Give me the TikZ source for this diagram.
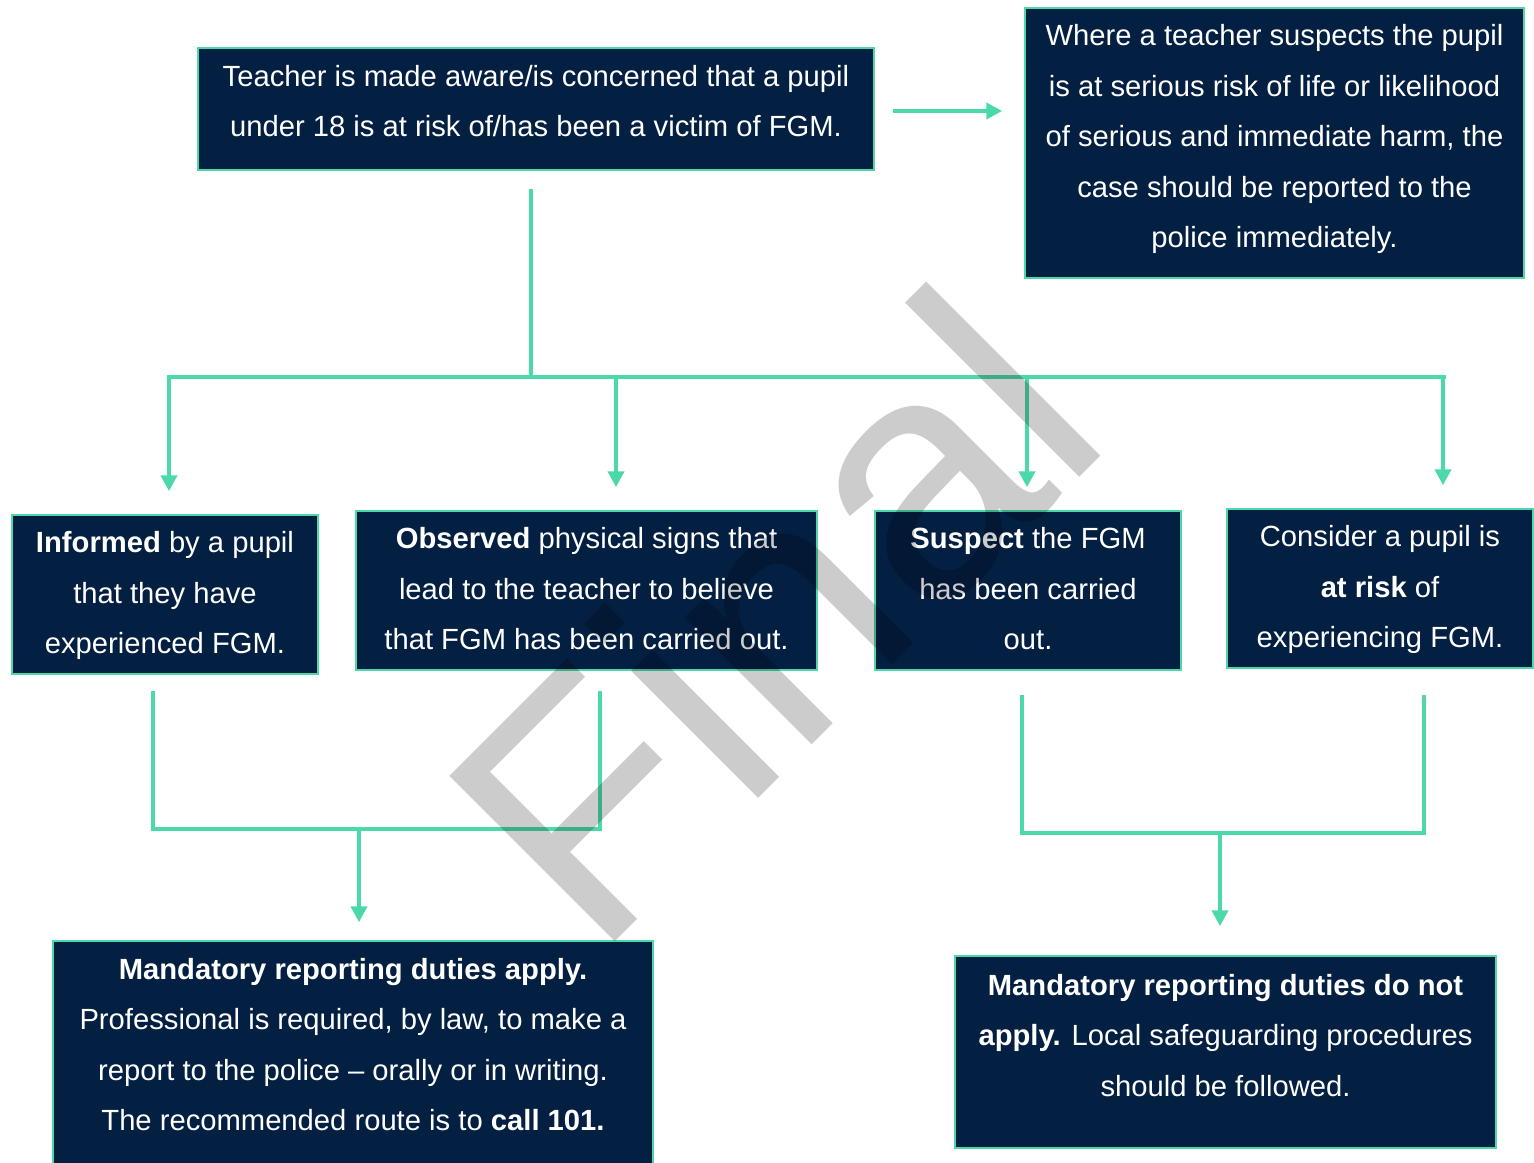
\documentclass[tikz,border=0pt]{standalone}
\usepackage{fontspec}
\setmainfont{Liberation Sans}
\usetikzlibrary{arrows.meta}
\definecolor{navyFill}{RGB}{3,31,66}
\definecolor{mintLine}{RGB}{76,217,170}
\newcommand{\padFirst}{\rule{0pt}{15.7pt}}
\begin{document}
\begin{tikzpicture}
[x=0.5pt,y=-0.5pt,
  padBottom/.style={execute at end node={\rule[-#1]{0pt}{0pt}}},%
  boxDecorate/.style={shape=rectangle,draw=mintLine,line width=0.75pt,fill=navyFill,%
    text=white,align=center,inner sep=3pt,font=\fontsize{14.6}{25.25}\selectfont,%
    padBottom=7pt},%
  midBox/.style={boxDecorate,minimum width=153pt,minimum height=79.5pt,inner ysep=0pt,%
    padBottom=0pt},%
  lineDecorate/.style={-,draw=mintLine,line width=2pt},%
  arrowDecorate/.style={lineDecorate,-{Triangle[width=8pt,length=8pt]}}]
\useasboundingbox (0,0) rectangle (1534,1162);
%% boxes
\node (aware) at (536,109) [boxDecorate,minimum width=338pt,minimum height=61pt,padBottom=8pt]
  {Teacher is made aware/is concerned that a pupil\\under 18 is at risk of/has been a victim of FGM.};
\node (police) at (1274.5,143) [boxDecorate,minimum width=249.5pt,minimum height=135pt,padBottom=5pt]
  {Where a teacher suspects the pupil\\is at serious risk of life or likelihood\\of serious and immediate harm, the\\case should be reported to the\\police immediately.};
\node (informed) at (165,594.5) [midBox]
  {\padFirst\textbf{Informed} by a pupil\\that they have\\experienced FGM.};
\node (observed) at (586.5,590.5) [midBox,minimum width=230.5pt]
  {\padFirst\textbf{Observed} physical signs that\\lead to the teacher to believe\\that FGM has been carried out.};
\node (suspect) at (1028,590.5) [midBox]
  {\padFirst\textbf{Suspect} the FGM\\has been carried\\out.};
\node (consider) at (1380,588.5) [midBox]
  {\padFirst Consider a pupil is\\\textbf{at risk} of\\experiencing FGM.};
\node (apply) at (353,1054.5) [boxDecorate,minimum width=300pt,minimum height=113.5pt,padBottom=10pt]
  {\textbf{Mandatory reporting duties apply.}\\Professional is required, by law, to make a\\report to the police – orally or in writing.\\The recommended route is to \textbf{call 101.}};
\node (notapply) at (1225.5,1052) [boxDecorate,minimum width=270.5pt,minimum height=96pt,padBottom=17pt]
  {\textbf{Mandatory reporting duties do not}\\\textbf{apply.} Local safeguarding procedures\\should be followed.};
%% connectors
\coordinate (awareOut) at ([yshift=-1pt]aware.east);
\draw[arrowDecorate,shorten <=9pt,shorten >=11pt] (awareOut) -- (awareOut -| police.west);
\coordinate (hub) at (531,377);
\draw[lineDecorate,shorten <=9pt] (hub |- aware.south) -- (hub);
\foreach \boxname/\dx in {informed/2, observed/14.75, suspect/-0.5, consider/31.5}
{
  \coordinate (in\boxname) at ([xshift=\dx pt]\boxname.north);
  \draw[arrowDecorate,shorten >=11.5pt] (in\boxname |- hub) -- (in\boxname);
}
\draw[lineDecorate,shorten <=-1pt,shorten >=-1.5pt] (ininformed |- hub) -- (inconsider |- hub);
\coordinate (joinLeft) at (359,829);
\draw[lineDecorate] ([xshift=-6pt,yshift=-8pt]informed.south) |- (joinLeft)
  -| ([xshift=6.75pt,yshift=-10pt]observed.south);
\draw[arrowDecorate,shorten >=9pt] (joinLeft) -- (joinLeft |- apply.north);
\coordinate (joinRight) at (1220,833);
\draw[lineDecorate] ([xshift=-3pt,yshift=-12pt]suspect.south) |- (joinRight)
  -| ([xshift=22pt,yshift=-13pt]consider.south);
\draw[arrowDecorate,shorten >=14.5pt] (joinRight) -- (joinRight |- notapply.north);
%% watermark
\node (watermark) at (856,701) [anchor=base,rotate=45,inner sep=0pt,text=black,%
  text opacity=0.2,font=\fontsize{170}{170}\selectfont] {Final};
\end{tikzpicture}
\end{document}
